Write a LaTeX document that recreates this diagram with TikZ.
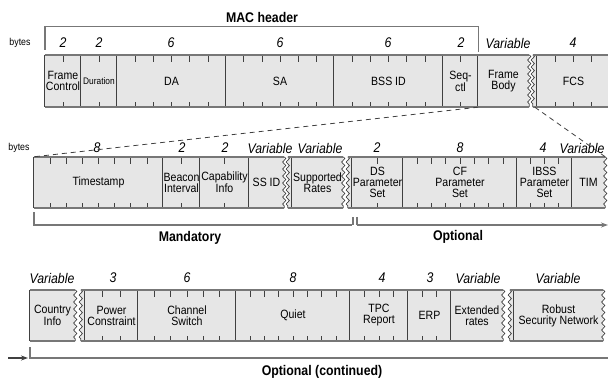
\documentclass[tikz,border=0pt]{standalone}
\usepackage{fontspec}
\setmainfont{Liberation Sans}[FakeStretch=0.88]
\usetikzlibrary{calc,arrows.meta,decorations.pathmorphing}
\definecolor{boxgray}{HTML}{E6E6E6}
\definecolor{rimgray}{HTML}{777777}
\definecolor{sepgray}{HTML}{404040}
\newcommand\byteticks[2]{%
  \pgfmathtruncatemacro\lasttick{#2-1}%
  \foreach \i in {1,...,\lasttick}{%
    \draw[tck] ($(#1.north west)!{\i/#2}!(#1.north east)$) -- ++(0,7);
    \draw[tck] ($(#1.south west)!{\i/#2}!(#1.south east)$) -- ++(0,-5);
  }}
\newcommand\zigout[1]{\draw[zig] (#1.north east) -- (#1.south east);}
\newcommand\zigin[1]{%
  \fill[boxgray] ([xshift=-4pt]#1.north west) rectangle (#1.south west);
  \draw[zig] ([xshift=-4pt]#1.north west) -- ([xshift=-4pt]#1.south west);}
\begin{document}
\begin{tikzpicture}[x=1pt,y=-1pt,
    fld/.style={fill=boxgray,inner sep=0pt,align=center,
      font=\fontsize{12}{11}\selectfont,minimum height=51pt},
    tck/.style={draw=sepgray,line width=0.75pt},
    sepl/.style={draw=sepgray,line width=0.9pt},
    rim/.style={draw=rimgray,line width=1.5pt},
    zig/.style={draw=sepgray,line width=0.7pt,decorate,
      decoration={zigzag,amplitude=1.6pt,segment length=7pt}},
    brk/.style={draw=rimgray,line width=1.4pt},
    dsh/.style={draw=sepgray,line width=0.8pt,dash pattern=on 5pt off 4pt},
    num/.style={font=\fontsize{14}{14}\selectfont\itshape},
    byl/.style={font=\fontsize{10}{10}\selectfont},
    hd/.style={font=\fontsize{14}{14}\selectfont\bfseries}]
  \useasboundingbox (0,0) rectangle (608,379);

  % MAC header
  \node[fld,minimum height=52pt,minimum width=36pt] (fc) at (63,81) {Frame\\Control};
  \node[fld,minimum height=52pt,minimum width=36pt,font=\fontsize{9.5}{9.5}\selectfont] (du) at (99,81) {Duration};
  \node[fld,minimum height=52pt,minimum width=109pt] (da) at (171.5,81) {DA};
  \node[fld,minimum height=52pt,minimum width=108pt] (sa) at (280,81) {SA};
  \node[fld,minimum height=52pt,minimum width=109pt] (bss) at (388.5,81) {BSS ID};
  \node[fld,minimum height=52pt,minimum width=35pt] (seq) at (460.5,81) {Seq-\\ctl};
  \node[fld,minimum height=52pt,minimum width=51pt] (fb) at (503.5,81) {Frame\\Body};
  \node[fld,minimum height=52pt,minimum width=73pt] (fcs) at (573.5,81) {FCS};

  % frame body
  \node[fld,minimum width=129pt] (ts) at (98.5,182.5) {Timestamp};
  \node[fld,minimum width=37pt] (bi) at (181.5,182.5) {Beacon\\Interval};
  \node[fld,minimum width=49pt] (ci) at (224.5,182.5) {Capability\\Info};
  \node[fld,minimum width=35pt] (ssid) at (266.5,182.5) {SS ID};
  \node[fld,minimum width=51pt] (sr) at (317.5,182.5) {Supported\\Rates};
  \node[fld,minimum width=51pt] (ds) at (377.5,182.5) {DS\\Parameter\\Set};
  \node[fld,minimum width=114pt] (cf) at (460,182.5) {CF\\Parameter\\Set};
  \node[fld,minimum width=55pt] (ibss) at (544.5,182.5) {IBSS\\Parameter\\Set};
  \node[fld,minimum width=33pt] (tim) at (588.5,182.5) {TIM};

  % optional, continued
  \node[fld,minimum width=45pt] (cty) at (52.5,315.5) {Country\\Info};
  \node[fld,minimum width=53pt] (pc) at (111.5,315.5) {Power\\Constraint};
  \node[fld,minimum width=98pt] (chs) at (187,315.5) {Channel\\Switch};
  \node[fld,minimum width=114pt] (qt) at (293,315.5) {Quiet};
  \node[fld,minimum width=58pt] (tpc) at (379,315.5) {TPC\\Report};
  \node[fld,minimum width=43pt] (erp) at (429.5,315.5) {ERP};
  \node[fld,minimum width=52pt] (ext) at (477,315.5) {Extended\\rates};
  \node[fld,minimum width=89pt] (rsn) at (558.5,315.5) {Robust\\Security Network};

  \zigin{fcs} \zigin{sr} \zigin{ds} \zigin{pc} \zigin{rsn}
  \zigout{fb} \zigout{ssid} \zigout{sr} \zigout{tim} \zigout{cty} \zigout{ext} \zigout{rsn}

  \byteticks{fc}{2} \byteticks{du}{2} \byteticks{da}{6} \byteticks{sa}{6}
  \byteticks{bss}{6} \byteticks{seq}{2} \byteticks{fcs}{4}
  \byteticks{ts}{8} \byteticks{bi}{2} \byteticks{ci}{2} \byteticks{ds}{2}
  \byteticks{cf}{8} \byteticks{ibss}{4}
  \byteticks{pc}{3} \byteticks{chs}{6} \byteticks{qt}{8} \byteticks{tpc}{4} \byteticks{erp}{3}

  \foreach \n in {fc,du,da,sa,bss,seq,fb,fcs,ts,bi,ci,ssid,sr,ds,cf,ibss,tim,
      cty,pc,chs,qt,tpc,erp,ext,rsn}
    \draw[sepl] (\n.north west) -- (\n.south west);

  \draw[rim] (fc.north west) -- (fb.north east) (fc.south west) -- (fb.south east);
  \draw[rim] ([xshift=-4pt]fcs.north west) -- (fcs.north east)
    ([xshift=-4pt]fcs.south west) -- (fcs.south east);
  \draw[rim] (ts.north west) -- (ssid.north east) (ts.south west) -- (ssid.south east);
  \draw[rim] ([xshift=-4pt]sr.north west) -- (sr.north east)
    ([xshift=-4pt]sr.south west) -- (sr.south east);
  \draw[rim] ([xshift=-4pt]ds.north west) -- (tim.north east)
    ([xshift=-4pt]ds.south west) -- (tim.south east);
  \draw[rim] (cty.north west) -- (cty.north east) (cty.south west) -- (cty.south east);
  \draw[rim] ([xshift=-4pt]pc.north west) -- (ext.north east)
    ([xshift=-4pt]pc.south west) -- (ext.south east);
  \draw[rim] ([xshift=-4pt]rsn.north west) -- (rsn.north east)
    ([xshift=-4pt]rsn.south west) -- (rsn.south east);

  % byte counts
  \node[byl] (by1) at (20,43) {bytes};
  \node[byl] (by2) at (19,148) {bytes};
  \foreach \x/\t [count=\k] in {63/2,99/2,171/6,280/6,388/6,461/2,508/Variable,573/4}
    \node[num] (na\k) at (\x,43) {\t};
  \foreach \x/\t [count=\k] in {97/8,182/2,225/2,270/Variable,320/Variable,377/2,460/8,543/4,582/Variable}
    \node[num] (nb\k) at (\x,148) {\t};
  \foreach \x/\t [count=\k] in {52/Variable,113/3,187/6,293/8,382/4,430/3,478/Variable,558/Variable}
    \node[num] (nc\k) at (\x,278) {\t};

  % brackets
  \node[hd] (mach) at (262,17) {MAC header};
  \draw[brk] ([yshift=5pt]fc.north west) -- ++(0,-23) -| ([yshift=3pt]seq.north east);
  \draw[dsh] (seq.south east) -- (ts.north west);
  \draw[dsh] ([xshift=-2pt]fcs.south west) -- (tim.north east);

  \coordinate (mande) at (352,225);
  \draw[brk] ([yshift=-4pt]ts.south west) |- (mande);
  \node[hd] (mand) at (190,238) {Mandatory};
  \draw[brk] (353,217) -- (353,225) (357,217) -- (357,225);
  \coordinate (opte) at (608,225);
  \draw[brk,-{Stealth[length=7pt,width=5pt]}] (357,225) -- (opte);
  \node[hd] (opt) at (458,237) {Optional};

  \coordinate (conts) at (8,358);
  \draw[brk,draw=sepgray,-{Stealth[length=7pt,width=5pt]}] (conts) -- (28,358);
  \draw[brk] ([yshift=-6pt]cty.south west) |- (610,358);
  \node[hd] (cont) at (322,372) {Optional (continued)};
\end{tikzpicture}
\end{document}
